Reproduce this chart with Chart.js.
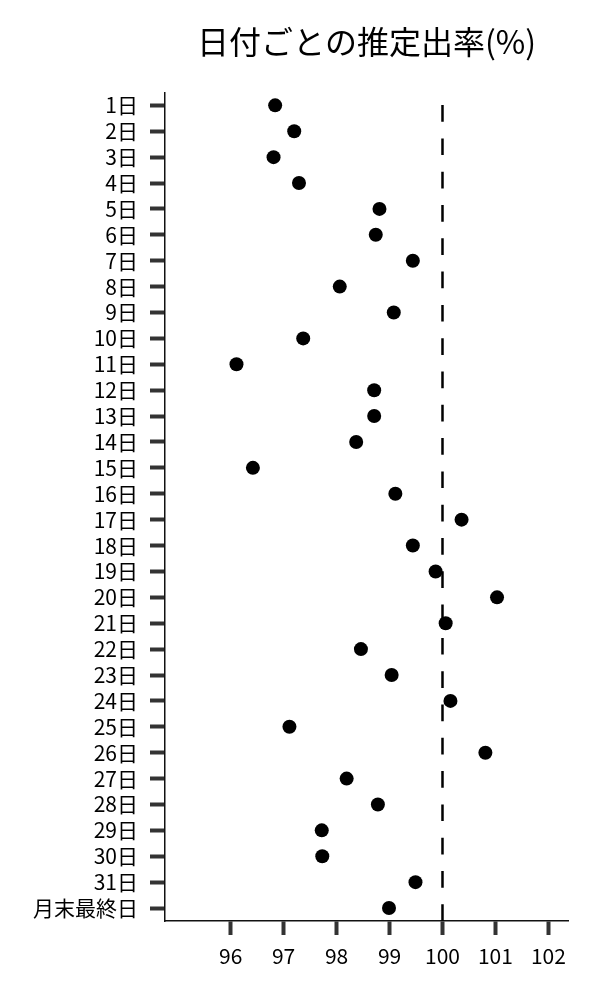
<!DOCTYPE html>
<html>
<head>
<meta charset="utf-8">
<title>日付ごとの推定出率</title>
<script src="https://cdn.jsdelivr.net/npm/chart.js@4.4.1/dist/chart.umd.min.js"></script>
<style>
  html, body { margin: 0; padding: 0; background: #fff; }
</style>
</head>
<body>
<canvas id="dotChart" width="600" height="1000"></canvas>
<script>
const days = ['1日', '2日', '3日', '4日', '5日', '6日', '7日', '8日', '9日', '10日',
  '11日', '12日', '13日', '14日', '15日', '16日', '17日', '18日', '19日', '20日',
  '21日', '22日', '23日', '24日', '25日', '26日', '27日', '28日', '29日', '30日',
  '31日', '月末最終日'];
const rates = [96.84, 97.20, 96.81, 97.29, 98.81, 98.74, 99.44, 98.06, 99.08, 97.37,
  96.11, 98.71, 98.71, 98.37, 96.42, 99.11, 100.36, 99.44, 99.87, 101.03,
  100.06, 98.46, 99.04, 100.15, 97.11, 100.81, 98.19, 98.78, 97.72, 97.73,
  99.49, 98.99];
const xTicks = [96, 97, 98, 99, 100, 101, 102];
const refValue = 100;

const font = '"Noto Sans CJK JP", "Noto Sans", sans-serif';

// dashed reference line at 100, drawn from the bottom up like matplotlib does
const refLine = {
  id: 'refLine',
  beforeDatasetsDraw(chart) {
    const {ctx, chartArea} = chart;
    const x = chart.scales.x.getPixelForValue(refValue);
    ctx.save();
    ctx.strokeStyle = '#000';
    ctx.lineWidth = 2.5;
    ctx.setLineDash([16.7, 16.6]);
    ctx.beginPath();
    ctx.moveTo(x, chartArea.bottom);
    ctx.lineTo(x, chartArea.top);
    ctx.stroke();
    ctx.restore();
  }
};

new Chart(document.getElementById('dotChart').getContext('2d'), {
  type: 'scatter',
  data: {
    labels: days,
    datasets: [{
      data: days.map((d, i) => ({x: rates[i], y: d})),
      backgroundColor: '#000',
      borderWidth: 0,
      pointRadius: 7,
      pointHoverRadius: 7
    }]
  },
  options: {
    responsive: false,
    animation: false,
    layout: { padding: { left: 0, right: 32, top: 0, bottom: 0 } },
    plugins: {
      legend: { display: false },
      tooltip: { enabled: false },
      title: {
        display: true,
        text: '日付ごとの推定出率(%)',
        fullSize: false,
        color: '#000',
        font: { family: font, size: 32, weight: 'normal' },
        padding: { top: 23, bottom: 31 }
      }
    },
    scales: {
      x: {
        type: 'linear',
        min: 94.76,
        max: 102.37,
        afterBuildTicks: (scale) => { scale.ticks = xTicks.map(v => ({value: v})); },
        afterFit: (scale) => { scale.height = 79; },
        border: { display: true, color: '#111', width: 1.5 },
        grid: { drawOnChartArea: false, tickLength: 14, tickWidth: 4, tickColor: '#333' },
        ticks: { color: '#000', padding: 8, font: { family: font, size: 21 } }
      },
      y: {
        type: 'category',
        labels: days,
        offset: true,
        afterFit: (scale) => { scale.width = 165; },
        border: { display: true, color: '#111', width: 1.5 },
        grid: { drawOnChartArea: false, offset: false, tickLength: 15, tickWidth: 4, tickColor: '#333' },
        ticks: { color: '#000', padding: 12, autoSkip: false, font: { family: font, size: 21 } }
      }
    }
  },
  plugins: [refLine]
});
</script>
</body>
</html>
